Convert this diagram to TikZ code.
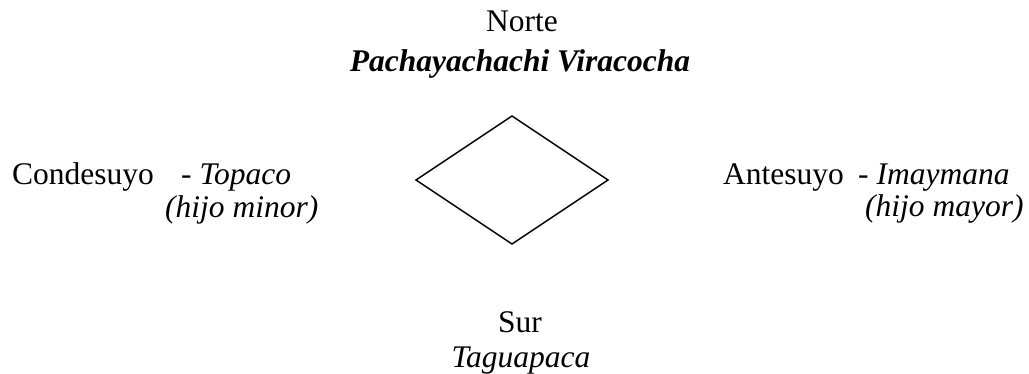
\documentclass[tikz,border=0pt]{standalone}
\usepackage{fontspec}
\setmainfont{Liberation Serif}
\usepackage{tikz}
\usetikzlibrary{calc}

\begin{document}
\begin{tikzpicture}[x=1pt, y=-1pt,
		lbl/.style={inner sep=0pt, font=\fontsize{31.5}{38}\selectfont}]
					\def\cx{512};
					\def\w{96};
					\def\h{64};
					
					\useasboundingbox (0,0) rectangle (1029,374);
					
					\coordinate (O) at (\cx,180);
					\coordinate (top) at ($ (O) + (0,-\h) $);
					\coordinate (bot) at ($ (O) + (0,\h) $);
					\coordinate (lft) at ($ (O) + (-\w,0) $);
					\coordinate (rgt) at ($ (O) + (\w,0) $);
					
					\begin{scope}
						\draw [line width=1.5pt, line join=miter] (top) -- (rgt) -- (bot) -- (lft) -- cycle;
					\end{scope}
					
					\begin{scope}[every node/.style={lbl}]
						\node [anchor=base] (norte) at (522,32) {Norte};
						\node [anchor=base] (pacha) at (520,72) {\textbf{\textit{Pachayachachi Viracocha}}};
						
						\node [anchor=base west] (conde) at (12,185) {Condesuyo};
						\node [anchor=base west] (topaco) at (181,185) {- \textit{Topaco}};
						\node [anchor=base west] (minor) at (165,218) {\textit{(hijo minor)}};
						
						\node [anchor=base west] (ante) at (723,185) {Antesuyo};
						\node [anchor=base west] (imay) at (858,185) {- \textit{Imaymana}};
						\node [anchor=base west] (mayor) at (865,217) {\textit{(hijo mayor)}};
						
						\node [anchor=base] (sur) at (520,333) {Sur};
						\node [anchor=base] (tagua) at (521,367) {\textit{Taguapaca}};
					\end{scope}
				\end{tikzpicture}
\end{document}
